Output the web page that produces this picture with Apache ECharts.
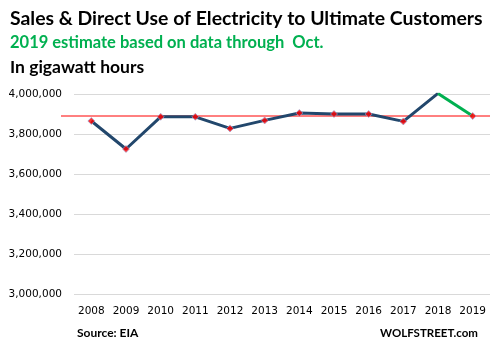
<!DOCTYPE html>
<html><head><meta charset="utf-8">
<script src="https://cdn.jsdelivr.net/npm/echarts@6/dist/echarts.min.js"></script>
<style>html,body{margin:0;padding:0;background:#fff}#c{width:490px;height:355px}</style>
</head><body><div id="c"></div>
<script>
const years = ['2008','2009','2010','2011','2012','2013','2014','2015','2016','2017','2018','2019'];
const values = [3865000, 3725000, 3886000, 3886000, 3828000, 3868000, 3905000, 3900000, 3900000, 3863000, 4003000, 3890000];
const refValue = 3890000;
const yTicks = [3000000, 3200000, 3400000, 3600000, 3800000, 4000000];

const n = values.length;
const blueData = values.map((v, i) => i < n - 1 ? v : null);
const greenData = values.map((v, i) => i >= n - 2 ? v : null);

const chart = echarts.init(document.getElementById('c'), null, {renderer: 'canvas'});
const gTop = 94, gBottom = 355 - 294;
chart.setOption({
  animation: false,
  title: [
    {text: 'Sales & Direct Use of Electricity to Ultimate Customers', left: 10, top: 9, padding: 0,
     textStyle: {fontFamily: 'Lato', fontWeight: 'bold', fontSize: 19.4, color: '#000'}},
    {text: '2019 estimate based on data through  Oct.', left: 10, top: 34, padding: 0,
     textStyle: {fontFamily: 'Lato', fontWeight: 'bold', fontSize: 16.5, color: '#00B050'}},
    {text: 'In gigawatt hours', left: 10, top: 58, padding: 0,
     textStyle: {fontFamily: 'Lato', fontWeight: 'bold', fontSize: 17.5, color: '#000'}},
    {text: 'Source: EIA', left: 77, top: 327, padding: 0,
     textStyle: {fontFamily: 'Lato', fontWeight: 'bold', fontSize: 12, color: '#000'}},
    {text: 'WOLFSTREET.com', right: 12, top: 327, padding: 0,
     textStyle: {fontFamily: 'Lato', fontWeight: 'bold', fontSize: 11.5, color: '#000'}}
  ],
  grid: [
    {left: 74, right: -1, top: gTop, bottom: gBottom},
    {left: 61, right: 0, top: gTop, bottom: gBottom}
  ],
  xAxis: [
    {type: 'category', data: years, gridIndex: 0, boundaryGap: true,
     axisLine: {show: false}, axisTick: {show: false},
     axisLabel: {interval: 0, fontFamily: 'DejaVu Sans', fontSize: 10.5, color: '#000', margin: 12}},
    {type: 'value', gridIndex: 1, min: 0, max: 1, show: false}
  ],
  yAxis: [
    {type: 'value', gridIndex: 0, min: yTicks[0], max: yTicks[yTicks.length - 1], interval: 200000,
     axisLine: {show: false}, axisTick: {show: false},
     splitLine: {lineStyle: {color: '#D9D9D9', width: 1}},
     axisLabel: {fontFamily: 'DejaVu Sans', fontSize: 10.5, color: '#000', margin: 12,
       formatter: v => v.toLocaleString('en-US')}},
    {type: 'value', gridIndex: 1, min: yTicks[0], max: yTicks[yTicks.length - 1], show: false}
  ],
  series: [
    {type: 'line', xAxisIndex: 1, yAxisIndex: 1, data: [[0, refValue], [1, refValue]],
     symbol: 'none', lineStyle: {color: '#FF0000', width: 1}, z: 1, silent: true},
    {type: 'line', data: blueData, symbol: 'none', connectNulls: false,
     lineStyle: {color: '#22476C', width: 3}, z: 2},
    {type: 'line', data: greenData, symbol: 'none',
     lineStyle: {color: '#00B050', width: 3}, z: 3},
    {type: 'scatter', data: values, symbol: 'diamond', symbolSize: 7,
     itemStyle: {color: '#FF0000', borderColor: '#8FAADC', borderWidth: 0.8}, z: 4}
  ]
});
</script></body></html>
